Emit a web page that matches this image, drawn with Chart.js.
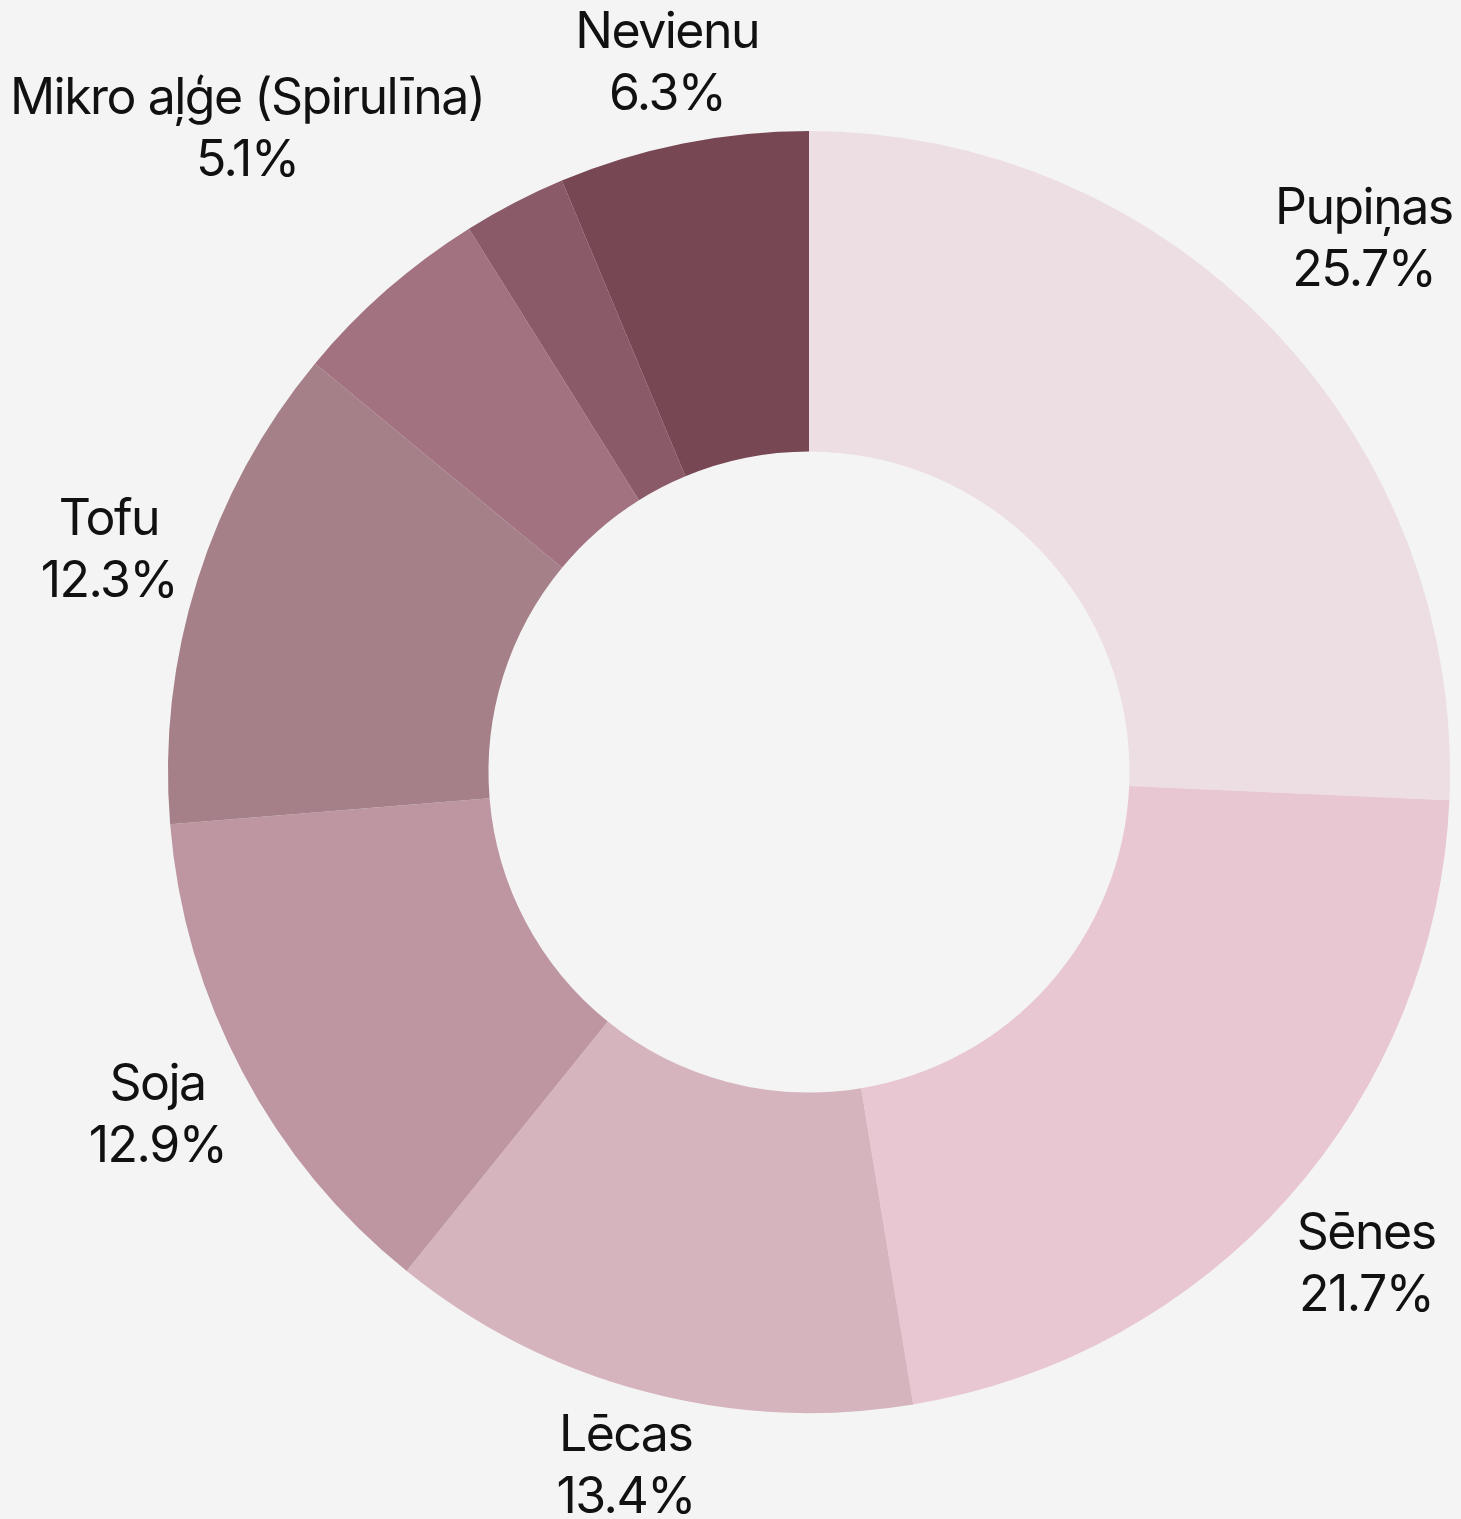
<!DOCTYPE html>
<html>
<head>
<meta charset="utf-8">
<script src="https://cdn.jsdelivr.net/npm/chart.js@4"></script>
<style>
  html, body { margin: 0; padding: 0; background: #f4f4f4; }
  #wrap { width: 1461px; height: 1519px; }
</style>
</head>
<body>
<div id="wrap"><canvas id="chart" width="1461" height="1519"></canvas></div>
<script>
// data, clockwise from 12 o'clock
const labels = ["Pupiņas", "Sēnes", "Lēcas", "Soja", "Tofu", "Mikro aļģe (Spirulīna)", "", "Nevienu"];
const values = [25.7, 21.7, 13.4, 12.9, 12.3, 5.1, 2.6, 6.3];
const colors = ["#ecdee3", "#e8c7d2", "#d5b4bd", "#bd96a1", "#a68089", "#a27280", "#8a5a68", "#774754"];
// how far out each label sits, as a share of the outer radius
const labelDist = [1.198, 1.162, 1.123, 1.15, 1.145, 1.33, 0, 1.125];

const outsideLabels = {
  id: "outsideLabels",
  afterDatasetsDraw(chart) {
    const ctx = chart.ctx;
    const meta = chart.getDatasetMeta(0);
    ctx.save();
    ctx.font = "50px Inter";
    ctx.letterSpacing = "-1.5px";
    ctx.fillStyle = "#111";
    ctx.textAlign = "center";
    ctx.textBaseline = "alphabetic";
    meta.data.forEach((arc, i) => {
      if (!labels[i]) return;
      const { x, y, startAngle, endAngle, outerRadius } = arc.getProps(["x", "y", "startAngle", "endAngle", "outerRadius"], true);
      const mid = (startAngle + endAngle) / 2;
      const r = outerRadius * labelDist[i];
      const cx = x + Math.cos(mid) * r, cy = y + Math.sin(mid) * r - 4;
      ctx.fillText(labels[i], cx, cy - 13);
      ctx.fillText(values[i].toFixed(1) + "%", cx, cy + 49);
    });
    ctx.restore();
  }
};

new Chart(document.getElementById("chart"), {
  type: "doughnut",
  data: { labels, datasets: [{ data: values, backgroundColor: colors, borderWidth: 0, hoverOffset: 0 }] },
  options: {
    responsive: false, animation: false, cutout: "50%",
    layout: { padding: { left: 168, right: 11, top: 131, bottom: 106 } },
    plugins: { legend: { display: false }, tooltip: { enabled: false } }
  },
  plugins: [outsideLabels]
});
</script>
</body>
</html>
